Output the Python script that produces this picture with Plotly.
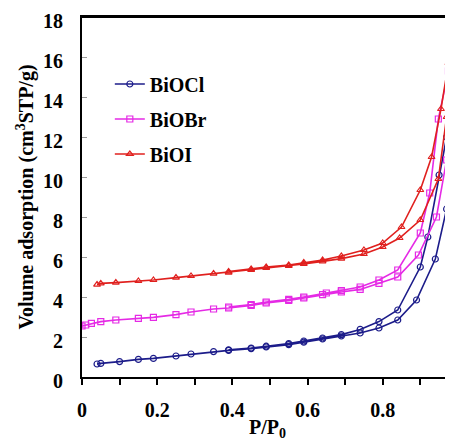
import plotly.graph_objects as go

# ---- data ----
names = ["BiOCl", "BiOBr", "BiOI"]

bioCl_ads_x = [0.04, 0.05, 0.10, 0.15, 0.19, 0.25, 0.29, 0.35, 0.39, 0.45, 0.49, 0.55, 0.59, 0.64, 0.69, 0.74, 0.79, 0.84, 0.89, 0.94, 0.97, 0.99]
bioCl_ads_y = [0.65, 0.68, 0.77, 0.88, 0.93, 1.05, 1.15, 1.27, 1.33, 1.42, 1.50, 1.62, 1.74, 1.90, 2.05, 2.20, 2.45, 2.85, 3.85, 5.90, 8.40, 12.5]
bioCl_des_x = [0.99, 0.97, 0.95, 0.92, 0.90, 0.84, 0.79, 0.74, 0.69, 0.64, 0.59, 0.55, 0.49, 0.45, 0.39]
bioCl_des_y = [14.0, 12.0, 10.1, 7.0, 5.5, 3.35, 2.77, 2.38, 2.12, 1.95, 1.80, 1.67, 1.54, 1.45, 1.36]

bioBr_ads_x = [0.0, 0.01, 0.025, 0.05, 0.09, 0.15, 0.19, 0.25, 0.29, 0.35, 0.39, 0.45, 0.49, 0.55, 0.59, 0.64, 0.69, 0.74, 0.79, 0.84, 0.895, 0.943, 0.97, 0.99]
bioBr_ads_y = [2.55, 2.60, 2.68, 2.77, 2.85, 2.93, 2.98, 3.12, 3.25, 3.40, 3.45, 3.58, 3.70, 3.83, 3.95, 4.12, 4.25, 4.38, 4.68, 5.00, 6.10, 8.00, 10.85, 15.6]
bioBr_des_x = [0.99, 0.975, 0.948, 0.925, 0.90, 0.84, 0.79, 0.74, 0.69, 0.65, 0.59, 0.55, 0.49, 0.45, 0.39]
bioBr_des_y = [16.0, 15.3, 12.9, 9.2, 7.2, 5.35, 4.85, 4.50, 4.32, 4.20, 4.00, 3.88, 3.75, 3.62, 3.50]

bioI_ads_x = [0.04, 0.05, 0.09, 0.15, 0.19, 0.25, 0.29, 0.35, 0.39, 0.45, 0.49, 0.55, 0.59, 0.64, 0.69, 0.75, 0.80, 0.845, 0.90, 0.948, 0.97, 0.99]
bioI_ads_y = [4.62, 4.68, 4.72, 4.80, 4.85, 4.97, 5.05, 5.17, 5.22, 5.35, 5.45, 5.55, 5.65, 5.78, 5.92, 6.15, 6.50, 6.95, 7.85, 9.9, 13.0, 16.8]
bioI_des_x = [0.99, 0.975, 0.955, 0.93, 0.90, 0.85, 0.80, 0.75, 0.69, 0.64, 0.59, 0.55, 0.49, 0.45, 0.39]
bioI_des_y = [17.2, 15.7, 13.4, 11.0, 9.35, 7.5, 6.7, 6.35, 6.05, 5.85, 5.72, 5.60, 5.50, 5.40, 5.27]

y_ticks = [0, 2, 4, 6, 8, 10, 12, 14, 16, 18]
x_ticks = [0, 0.2, 0.4, 0.6, 0.8]
x_tick_text = ["0", "0.2", "0.4", "0.6", "0.8"]

colors = ["#1c1c8a", "#e52ae5", "#e0201e"]
symbols = ["circle-open", "square-open", "triangle-up-open"]

series = [
    (bioCl_ads_x, bioCl_ads_y, bioCl_des_x, bioCl_des_y),
    (bioBr_ads_x, bioBr_ads_y, bioBr_des_x, bioBr_des_y),
    (bioI_ads_x, bioI_ads_y, bioI_des_x, bioI_des_y),
]

FONT = "Liberation Serif, Times New Roman, serif"

fig = go.Figure()
for i, (name, (ax, ay, dx, dy)) in enumerate(zip(names, series)):
    fig.add_trace(go.Scatter(
        x=ax + dx, y=ay + dy, name=name, mode="lines+markers",
        line=dict(color=colors[i], width=1.6),
        marker=dict(symbol=symbols[i], size=6, color=colors[i],
                    line=dict(width=1.2, color=colors[i])),
        legendgroup=name,
    ))

# top frame line
fig.add_shape(type="line", xref="paper", yref="paper", x0=0, x1=1, y0=1, y1=1,
              line=dict(color="black", width=2), layer="above")

fig.update_layout(
    width=453, height=440,
    margin=dict(l=74, r=8, t=9, b=71, autoexpand=False),
    paper_bgcolor="white", plot_bgcolor="white",
    font=dict(family=FONT, size=20, color="black", weight="bold"),
    showlegend=True,
    legend=dict(x=0.075, y=0.868, xanchor="left", yanchor="top",
                bgcolor="rgba(0,0,0,0)", tracegroupgap=6,
                font=dict(family=FONT, size=20, color="black", weight="bold")),
    xaxis=dict(range=[0, 0.987], tickvals=x_ticks, ticktext=x_tick_text,
               automargin=False, ticklabelstandoff=8, ticklabeloverflow="allow",
               showline=True, linecolor="black", linewidth=2, mirror=True,
               ticks="outside", ticklen=6, tickwidth=2, tickcolor="black",
               minor=dict(dtick=0.1, tick0=0, ticks="outside", ticklen=6, tickwidth=2, tickcolor="black"),
               showgrid=False, zeroline=False,
               title=dict(text="P/P<sub>0</sub>", standoff=0,
                          font=dict(family=FONT, size=20, weight="bold"))),
    yaxis=dict(range=[0, 18], tickvals=y_ticks,
               automargin=False, ticklabeloverflow="allow",
               showline=True, linecolor="black", linewidth=2, mirror=False,
               ticks="inside", ticklen=5, tickwidth=1, tickcolor="#999999",
               ticklabelstandoff=13, ticklabelshift=4,
               showgrid=False, zeroline=False,
               title=dict(text="Volume adsorption (cm<sup>3</sup>STP/g)", standoff=4,
                          font=dict(family=FONT, size=20, weight="bold"))),
)

fig.write_html("out.html")
